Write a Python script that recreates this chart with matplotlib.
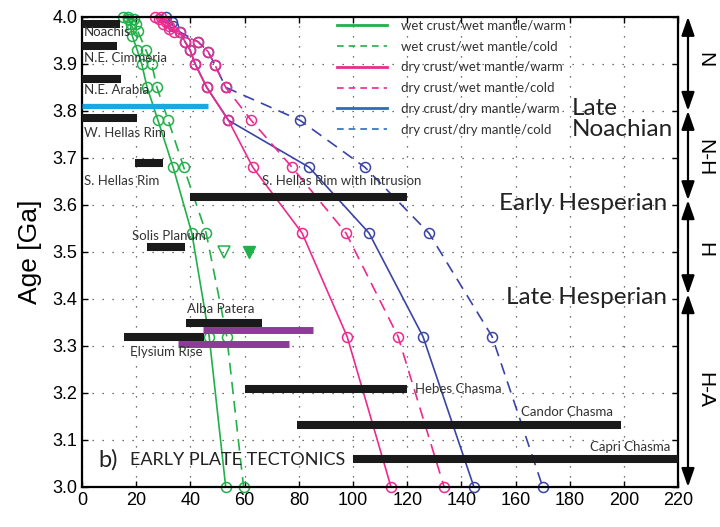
import matplotlib.pyplot as plt
from matplotlib.lines import Line2D
import numpy as np

# thermal evolution curves (distance vs age)
green_warm_x = [15, 17, 18, 18, 18.5, 20.3, 22, 24, 28, 33.6, 40.5, 46.9, 53]
green_warm_age = [4.0, 3.995, 3.985, 3.975, 3.96, 3.93, 3.90, 3.85, 3.78, 3.68, 3.54, 3.32, 3.0]
green_cold_x = [17, 19, 20, 20.5, 23.5, 25.7, 27.6, 31.8, 37.5, 45.8, 53.4, 59.6]
green_cold_age = [4.0, 3.995, 3.985, 3.97, 3.93, 3.90, 3.85, 3.78, 3.68, 3.54, 3.32, 3.0]

pink_warm_x = [27, 28.5, 30, 32, 36, 38, 39.8, 41.7, 46, 54, 63, 81.2, 97.8, 114]
pink_warm_age = [4.0, 3.995, 3.985, 3.975, 3.968, 3.947, 3.93, 3.90, 3.85, 3.78, 3.68, 3.54, 3.32, 3.0]
pink_cold_x = [29, 31, 32, 34, 42.8, 46.5, 49, 53, 62.4, 77.5, 97.4, 116.6, 133.6]
pink_cold_age = [4.0, 3.99, 3.98, 3.968, 3.947, 3.926, 3.898, 3.85, 3.78, 3.68, 3.54, 3.32, 3.0]

blue_warm_x = [38, 39.8, 41.7, 46, 54, 83.8, 105.9, 125.8, 144.6]
blue_warm_age = [3.947, 3.93, 3.90, 3.85, 3.78, 3.68, 3.54, 3.32, 3.0]
blue_cold_x = [31, 33, 33.5, 36, 42.8, 46.5, 49, 53, 80.4, 104.4, 128, 151.3, 170]
blue_cold_age = [4.0, 3.99, 3.98, 3.968, 3.947, 3.926, 3.898, 3.85, 3.78, 3.68, 3.54, 3.32, 3.0]

# feature ages (black bars)
bar_names = ["Noachis", "N.E. Cimmeria", "N.E. Arabia", "W. Hellas Rim", "S. Hellas Rim",
             "S. Hellas Rim with intrusion", "Solis Planum", "Alba Patera", "Elysium Rise",
             "Hebes Chasma", "Candor Chasma", "Capri Chasma"]
bar_age = [3.985, 3.938, 3.868, 3.785, 3.69, 3.617, 3.51, 3.349, 3.32, 3.209, 3.132, 3.06]
bar_start = [0, 0, 0, 0, 19.6, 40, 24, 38.4, 15.5, 60, 79.2, 100]
bar_end = [14, 13, 14.4, 20.4, 30, 120, 38, 66.4, 45, 120, 199, 220]

cyan_age, cyan_start, cyan_end = 3.81, 0, 46.6
purple_age = [3.334, 3.304]
purple_start = [44.6, 35.4]
purple_end = [85.2, 76.4]

tri_open_x, tri_fill_x, tri_age = 52.4, 61.6, 3.5

epoch_bounds = [4.0, 3.8, 3.61, 3.41, 3.0]
epoch_short = ["N", "N-H", "H", "H-A"]

GREEN = "#22b04b"
PINK = "#ec2a8f"
BLUE = "#3a44a6"
LEG_BLUE = "#2a6eb5"
LBL = "Lato"

fig = plt.figure(figsize=(7.2, 5.27), dpi=100)
ax = fig.add_axes([0.114, 0.076, 0.828, 0.892])

mk = dict(marker="o", mfc="none", ms=7.2, mew=1.1, lw=1.2, clip_on=False)
dash = (0, (7, 4.5))
ax.plot(green_warm_x, green_warm_age, color=GREEN, mec=GREEN, **mk)
ax.plot(green_cold_x, green_cold_age, color=GREEN, mec=GREEN, ls=dash, **mk)
ax.plot(blue_warm_x, blue_warm_age, color=BLUE, mec=BLUE, **mk)
ax.plot(blue_cold_x, blue_cold_age, color=BLUE, mec=BLUE, ls=dash, **mk)
ax.plot(pink_warm_x, pink_warm_age, color=PINK, mec=PINK, **mk)
ax.plot(pink_cold_x, pink_cold_age, color=PINK, mec=PINK, ls=dash, **mk)

ax.plot(tri_open_x, tri_age, "v", mfc="none", mec=GREEN, ms=8, mew=1.1)
ax.plot(tri_fill_x, tri_age, "v", color=GREEN, ms=9)

ax.hlines(bar_age, bar_start, bar_end, color="#1a1a1a", lw=5.8, zorder=3)
ax.hlines(cyan_age, cyan_start, cyan_end, color="#1aa8e0", lw=3.8, zorder=3)
ax.hlines(purple_age, purple_start, purple_end, color="#8c3c98", lw=5, zorder=3)

# feature labels
lbl_pos = [(0.7, 3.968), (0.7, 3.913), (0.7, 3.845), (0.7, 3.753), (0.7, 3.651),
           (66.4, 3.651), (18.5, 3.534), (38.7, 3.379), (17.7, 3.287),
           (123, 3.209), (162, 3.160), (187.5, 3.085)]
for name, (lx, ly) in zip(bar_names, lbl_pos):
    ax.text(lx, ly, name, family=LBL, fontsize=9.5, color="#333333",
            ha="left", va="center", zorder=4)

ax.text(5.9, 3.058, "b)", family=LBL, fontsize=17, color="#222222", va="center")
ax.text(17.5, 3.058, "EARLY PLATE TECTONICS", family=LBL, fontsize=13,
        color="#222222", va="center")

ax.text(180.8, 3.782, "Late\nNoachian", family=LBL, fontsize=17.5, color="#222222",
        ha="left", va="center", linespacing=1.0)
ax.text(216, 3.604, "Early Hesperian", family=LBL, fontsize=17.5, color="#222222",
        ha="right", va="center")
ax.text(216, 3.404, "Late Hesperian", family=LBL, fontsize=17.5, color="#222222",
        ha="right", va="center")

# period arrows at right
ax_x = 223.6
for top, bot, lab in zip(epoch_bounds[:-1], epoch_bounds[1:], epoch_short):
    ax.annotate("", xy=(ax_x, bot), xytext=(ax_x, top), annotation_clip=False,
                arrowprops=dict(arrowstyle="<|-|>,head_length=0.8,head_width=0.28",
                                color="black", lw=1.6, mutation_scale=14,
                                shrinkA=0, shrinkB=0))
label_age = [3.908, 3.70, 3.504, 3.206]
for lab, la in zip(epoch_short, label_age):
    ax.text(229.8, la, lab, rotation=270, fontsize=15, ha="center", va="center",
            family="Liberation Sans", clip_on=False)

legend_handles = [
    Line2D([], [], color=GREEN, lw=2),
    Line2D([], [], color=GREEN, lw=1.2, ls=(0, (4, 3))),
    Line2D([], [], color=PINK, lw=2),
    Line2D([], [], color=PINK, lw=1.2, ls=(0, (4, 3))),
    Line2D([], [], color=LEG_BLUE, lw=2),
    Line2D([], [], color=LEG_BLUE, lw=1.2, ls=(0, (4, 3))),
]
legend_labels = ["wet crust/wet mantle/warm", "wet crust/wet mantle/cold",
                 "dry crust/wet mantle/warm", "dry crust/wet mantle/cold",
                 "dry crust/dry mantle/warm", "dry crust/dry mantle/cold"]
ax.legend(legend_handles, legend_labels, loc="upper left", bbox_to_anchor=(0.428, 0.995),
          frameon=False, prop={"family": LBL, "size": 9.5}, handlelength=3.8,
          handletextpad=1.0, labelspacing=0.68, borderpad=0, borderaxespad=0,
          labelcolor="#333333")

ax.set_xlim(0, 220)
ax.set_ylim(3.0, 4.0)
ax.set_xticks(np.arange(0, 221, 20))
ax.set_yticks(np.arange(3.0, 4.01, 0.1))
ax.set_yticklabels([f"{v:.1f}" for v in np.arange(3.0, 4.01, 0.1)])
ax.tick_params(direction="in", top=True, right=True, length=4, width=1,
               labelsize=13)
for lab in ax.get_xticklabels() + ax.get_yticklabels():
    lab.set_family("Liberation Sans")
ax.grid(True, ls=(0, (1, 7)), color="#444444", lw=0.9)
for s in ax.spines.values():
    s.set_linewidth(1.6)
ax.set_ylabel("Age [Ga]", fontsize=19, family="Liberation Sans", labelpad=7)

fig.savefig("out.png", dpi=100)
